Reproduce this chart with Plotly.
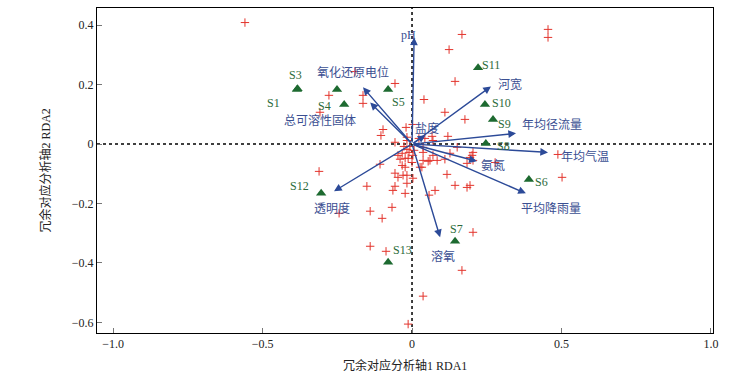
import plotly.graph_objects as go

# ---- data ----
species_x = [-0.559, -0.191, -0.057, -0.278, -0.164, -0.164, -0.308, 0.167, 0.124, 0.455,
             0.455, 0.144, 0.040, 0.110, 0.177, 0.120, -0.097, -0.104, -0.020, 0.002,
             -0.057, -0.017, 0.023, 0.043, 0.067, -0.017, 0.070, 0.037, 0.151, 0.204,
             0.194, 0.127, 0.037, 0.060, 0.084, 0.027, 0.117, 0.184, 0.201, 0.278,
             0.144, 0.184, 0.194, 0.077, 0.057, 0.488, 0.502, 0.204, 0.167, 0.037,
             -0.013, -0.017, -0.033, -0.047, -0.023, -0.013, -0.040, 0.000, -0.107, -0.033,
             -0.023, 0.033, -0.057, -0.030, -0.017, -0.047, 0.003, -0.151, -0.057, -0.017,
             -0.064, -0.023, -0.311, -0.067, -0.140, -0.244, -0.100, -0.140, -0.087, -0.007,
             0.007, -0.010, 0.003, -0.027, 0.070, 0.037, 0.054, 0.110, 0.204]
species_y = [0.409, 0.244, 0.204, 0.164, 0.164, 0.137, 0.107, 0.369, 0.318, 0.386,
             0.359, 0.211, 0.150, 0.107, 0.083, 0.026, 0.049, 0.029, 0.056, 0.066,
             0.006, 0.023, 0.019, 0.019, 0.026, 0.012, 0.012, -0.011, -0.011, -0.028,
             -0.045, -0.031, -0.055, -0.055, -0.055, -0.078, -0.102, -0.065, -0.038, -0.062,
             -0.139, -0.146, -0.139, -0.156, -0.172, -0.035, -0.112, -0.297, -0.425, -0.512,
             -0.606, -0.018, -0.031, -0.038, -0.048, -0.048, -0.051, -0.062, -0.068, -0.072,
             -0.078, -0.078, -0.098, -0.105, -0.105, -0.112, -0.115, -0.142, -0.142, -0.132,
             -0.156, -0.166, -0.092, -0.213, -0.226, -0.233, -0.250, -0.344, -0.361, -0.008,
             -0.021, -0.028, -0.038, -0.008, -0.038, -0.028, -0.058, -0.051, -0.055]

site_names = ["S1", "S2", "S3", "S4", "S5", "S6", "S7", "S8", "S9", "S10", "S11", "S12", "S13"]
site_x = [-0.385, -0.251, -0.383, -0.227, -0.080, 0.391, 0.144, 0.247, 0.271, 0.244, 0.221, -0.304, -0.080]
site_y = [0.184, 0.184, 0.186, 0.133, 0.184, -0.119, -0.327, 0.002, 0.083, 0.133, 0.257, -0.166, -0.398]

env_names = ["pH", "氧化还原电位", "总可溶性固体", "盐度", "河宽", "年均径流量",
             "年均气温", "氨氮", "平均降雨量", "溶氧", "透明度"]
env_x = [0.007, -0.164, -0.140, 0.045, 0.264, 0.348, 0.455, 0.217, 0.381, 0.094, -0.261]
env_y = [0.359, 0.191, 0.140, 0.030, 0.194, 0.036, -0.028, -0.058, -0.166, -0.314, -0.159]

x_ticks = [-1.0, -0.5, 0, 0.5, 1.0]
x_ticklabels = ["−1.0", "−0.5", "0", "0.5", "1.0"]
y_ticks = [0.4, 0.2, 0, -0.2, -0.4, -0.6]
y_ticklabels = ["0.4", "0.2", "0", "−0.2", "−0.4", "−0.6"]

# ---- label placement (pixel offsets) ----
site_label_offsets = {"S1": (-23, 14), "S3": (-2, -14), "S4": (-20, 1), "S5": (10, 13),
                      "S6": (13, 3), "S7": (1, -12), "S8": (18, 3), "S9": (11, 5),
                      "S10": (17, -2), "S11": (13, -3), "S12": (-22, -7), "S13": (14, -12)}
env_label_offsets = [(-6, -2), (-10, -15), (-50, 18), (2, -7), (19, -2), (36, -8),
                     (37, 4), (16, 4), (25, 16), (3, 19), (-2, 17)]

SERIF = "Liberation Serif, Times New Roman, Noto Sans CJK SC, serif"
BLUE = "#2c4a98"
LBLUE = "#3b4f92"
GREEN = "#1d6a30"
RED = "#e3342c"

fig = go.Figure()

fig.add_trace(go.Scatter(
    x=species_x, y=species_y, mode="markers",
    marker=dict(symbol="cross-thin", size=6, line=dict(color=RED, width=1), color=RED),
    hoverinfo="skip", showlegend=False))

fig.add_trace(go.Scatter(
    x=site_x, y=site_y, mode="markers",
    marker=dict(symbol="triangle-up", size=9, color=GREEN),
    text=site_names, hoverinfo="text", showlegend=False))

annotations = []
for name, ex, ey, (dx, dy) in zip(env_names, env_x, env_y, env_label_offsets):
    annotations.append(dict(
        x=ex, y=ey, xref="x", yref="y", ax=0, ay=0, axref="x", ayref="y",
        showarrow=True, arrowhead=2, arrowsize=1.1, arrowwidth=1.4,
        arrowcolor=BLUE, text=""))
    annotations.append(dict(
        x=ex, y=ey, xref="x", yref="y", showarrow=False, text=name,
        xshift=dx, yshift=-dy, font=dict(family=SERIF, size=12, color=LBLUE)))

for name, sx, sy in zip(site_names, site_x, site_y):
    if name in site_label_offsets:
        dx, dy = site_label_offsets[name]
        annotations.append(dict(
            x=sx, y=sy, xref="x", yref="y", showarrow=False, text=name,
            xshift=dx, yshift=-dy, font=dict(family=SERIF, size=12, color="#2d6a3a")))

annotations.append(dict(
    x=0.5, y=0, xref="paper", yref="paper", yanchor="middle", yshift=-32,
    showarrow=False, text="冗余对应分析轴1 RDA1",
    font=dict(family=SERIF, size=12, color="#222")))
annotations.append(dict(
    x=0, y=0.5, xref="paper", yref="paper", xanchor="center", xshift=-52,
    showarrow=False, text="冗余对应分析轴2 RDA2", textangle=-90,
    font=dict(family=SERIF, size=12, color="#222")))

shapes = [
    dict(type="line", xref="x", yref="paper", x0=0, x1=0, y0=0, y1=1,
         line=dict(color="black", width=1.5, dash="dot"), layer="below"),
    dict(type="line", xref="paper", yref="y", x0=0, x1=1, y0=0, y1=0,
         line=dict(color="black", width=1.5, dash="dot"), layer="below"),
]

fig.update_layout(
    width=756, height=380,
    margin=dict(l=97, r=43, t=8, b=47),
    paper_bgcolor="white", plot_bgcolor="white",
    annotations=annotations, shapes=shapes,
    xaxis=dict(range=[-1.054, 1.007], tickvals=x_ticks, ticktext=x_ticklabels,
               ticks="inside", ticklen=5, tickcolor="#777", showgrid=False,
               zeroline=False, showline=True, linecolor="black", linewidth=1,
               mirror=True, tickfont=dict(family=SERIF, size=12, color="#222")),
    yaxis=dict(range=[-0.636, 0.458], tickvals=y_ticks, ticktext=y_ticklabels,
               ticks="inside", ticklen=5, tickcolor="#777", showgrid=False,
               zeroline=False, showline=True, linecolor="black", linewidth=1,
               mirror=True, tickfont=dict(family=SERIF, size=12, color="#222")),
)

fig.write_html("out.html", config={"displayModeBar": False},
               post_script="document.body.style.margin='0px';")
